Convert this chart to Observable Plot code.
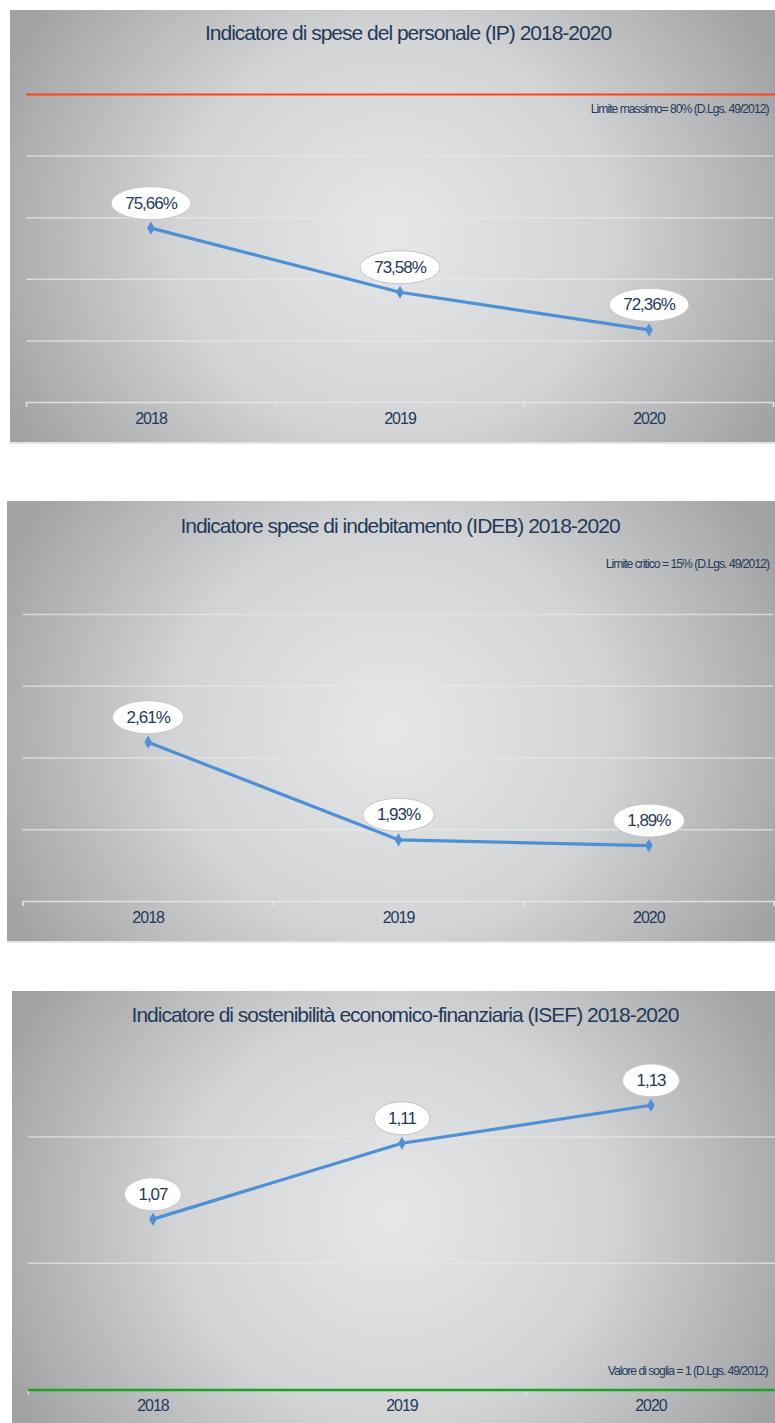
<!DOCTYPE html>
<html><head><meta charset="utf-8">
<script src="https://cdn.jsdelivr.net/npm/d3@7"></script>
<script src="https://cdn.jsdelivr.net/npm/@observablehq/plot@0.6"></script>
<style>
body{margin:0;background:#fff;}
#wrap{position:relative;width:775px;height:1423px;overflow:hidden;}
.panel{position:absolute;overflow:hidden;
  background:radial-gradient(ellipse 56% 92% at 50% 52%, #e6e7e9 0%, #d3d4d6 50%, #a1a2a4 100%);
  border-bottom:2px solid #e4e4e4;}
.title{position:absolute;transform:translateX(-50%);
  font-family:'Liberation Sans',Arial,sans-serif;
  color:#1f3a5a;font-size:21px;letter-spacing:-1px;white-space:nowrap;}
.panel svg{position:absolute;left:0;top:0;overflow:visible;}
</style></head>
<body><div id="wrap"></div>
<script>
// ---------- data ----------
const years = [2018, 2019, 2020];
const xBoundaries = [2017.5, 2018.5, 2019.5, 2020.5];

const ipTitle = "Indicatore di spese del personale (IP) 2018-2020";
const ipValues = [75.66, 73.58, 72.36];
const ipGrid = [72, 74, 76, 78];
const ipDomain = [70, 80];
const ipLimit = 80;
const ipNote = "Limite massimo= 80% (D.Lgs. 49/2012)";

const idebTitle = "Indicatore spese di indebitamento (IDEB) 2018-2020";
const idebValues = [2.61, 1.93, 1.89];
const idebGrid = [2.0, 2.5, 3.0, 3.5];
const idebDomain = [1.5, 3.5];
const idebNote = "Limite critico = 15% (D.Lgs. 49/2012)";

const isefTitle = "Indicatore di sostenibilità economico-finanziaria (ISEF) 2018-2020";
const isefValues = [1.07, 1.11, 1.13];
const isefGrid = [1.0467, 1.1133];
const isefDomain = [0.98, 1.18];
const isefNote = "Valore di soglia = 1 (D.Lgs. 49/2012)";

// ---------- style ----------
const FONT = "'Liberation Sans',Arial,sans-serif";
const NAVY = "#1f3a5a";
const LINE = "#4e90d6";
const GRID = "#e6e7e8";
const LS = 1; // letter spacing (px, negative)

const measureCtx = document.createElement("canvas").getContext("2d");
function textW(s, size) { measureCtx.font = `${size}px ${FONT}`; return measureCtx.measureText(s).width - LS * s.length; }

const ellipseSymbol = {
  draw(ctx, size) {
    const rx = Math.sqrt(size / Math.PI), ry = 16.5, k = 0.5523;
    ctx.moveTo(rx, 0);
    ctx.bezierCurveTo(rx, ry * k, rx * k, ry, 0, ry);
    ctx.bezierCurveTo(-rx * k, ry, -rx, ry * k, -rx, 0);
    ctx.bezierCurveTo(-rx, -ry * k, -rx * k, -ry, 0, -ry);
    ctx.bezierCurveTo(rx * k, -ry, rx, -ry * k, rx, 0);
    ctx.closePath();
  }
};

const pct = v => v.toFixed(2).replace(".", ",") + "%";
const dec = v => v.toFixed(2).replace(".", ",");

function panel({left, top, width, height, svgWidth, titleTop, titleCenter, title, values, fmt, grid, domain,
                mLeft, mRight, mTop, mBottom, extra}) {
  const div = document.createElement("div");
  div.className = "panel";
  Object.assign(div.style, {left: left + "px", top: top + "px", width: width + "px", height: height + "px"});
  const data = years.map((y, i) => ({year: y, value: values[i], label: fmt(values[i])}));
  const LABEL_SIZE = 17;
  const chart = Plot.plot({
    width: svgWidth, height,
    marginLeft: mLeft, marginRight: mRight, marginTop: mTop, marginBottom: mBottom,
    style: {background: "transparent", fontFamily: FONT, overflow: "visible", letterSpacing: `-${LS}px`},
    x: {domain: [xBoundaries[0], xBoundaries[xBoundaries.length - 1]], axis: null},
    y: {domain, axis: null},
    r: {type: "identity"},
    marks: [
      Plot.ruleY(grid, {stroke: GRID, strokeWidth: 1.5, strokeOpacity: 0.75}),
      Plot.ruleY([domain[0]], {stroke: GRID, strokeWidth: 1.5, strokeOpacity: 0.9}),
      Plot.ruleX(xBoundaries, {y1: domain[0], y2: domain[0], insetBottom: -5, stroke: GRID, strokeWidth: 1.5}),
      ...(extra || []),
      Plot.text(years, {x: d => d, frameAnchor: "bottom", dy: 21, text: d => String(d),
        fontSize: 16, fill: NAVY, fontFamily: FONT}),
      Plot.line(data, {x: "year", y: "value", stroke: LINE, strokeWidth: 3.2}),
      Plot.dot(data, {x: "year", y: "value", symbol: "diamond", r: 4, fill: LINE}),
      Plot.dot(data, {x: "year", y: "value", dy: -25, symbol: ellipseSymbol,
        r: d => textW(d.label, LABEL_SIZE) / 2 + 14,
        fill: "white", stroke: "#c3c4c6", strokeWidth: 1}),
      Plot.text(data, {x: "year", y: "value", dy: -25, text: "label", fontSize: LABEL_SIZE,
        fill: NAVY, fontFamily: FONT})
    ]
  });
  div.appendChild(chart);
  const t = document.createElement("div");
  t.className = "title";
  t.style.top = titleTop + "px";
  t.style.left = (titleCenter - left) + "px";
  t.textContent = title;
  div.appendChild(t);
  document.getElementById("wrap").appendChild(div);
}

const noteStyle = {fontSize: 12.2, fill: NAVY, fontFamily: FONT, textAnchor: "end"};

panel({left: 10, top: 10, width: 765, height: 432, svgWidth: 765, titleTop: 11, titleCenter: 408,
  title: ipTitle, values: ipValues, fmt: pct, grid: ipGrid, domain: ipDomain,
  mLeft: 16, mRight: 2, mTop: 84, mBottom: 40,
  extra: [
    Plot.ruleY([ipLimit], {stroke: "#ff4215", strokeWidth: 2.2, insetRight: -4}),
    Plot.text([ipNote], {y: ipLimit, frameAnchor: "right", dx: -5, dy: 15, ...noteStyle})
  ]});

panel({left: 7, top: 501, width: 768, height: 440, svgWidth: 768, titleTop: 13, titleCenter: 400,
  title: idebTitle, values: idebValues, fmt: pct, grid: idebGrid, domain: idebDomain,
  mLeft: 15.5, mRight: 1.5, mTop: 113, mBottom: 40,
  extra: [
    Plot.text([idebNote], {frameAnchor: "top-right", dx: -5, dy: -55, ...noteStyle})
  ]});

panel({left: 12, top: 991, width: 763, height: 432, svgWidth: 766, titleTop: 12, titleCenter: 405,
  title: isefTitle, values: isefValues, fmt: dec, grid: isefGrid, domain: isefDomain,
  mLeft: 16, mRight: 0, mTop: 19, mBottom: 32,
  extra: [
    Plot.ruleY([isefDomain[0]], {stroke: "#23a023", strokeWidth: 2.6}),
    Plot.text([isefNote], {frameAnchor: "bottom-right", dx: -8, dy: -15, ...noteStyle})
  ]});
</script></body></html>
